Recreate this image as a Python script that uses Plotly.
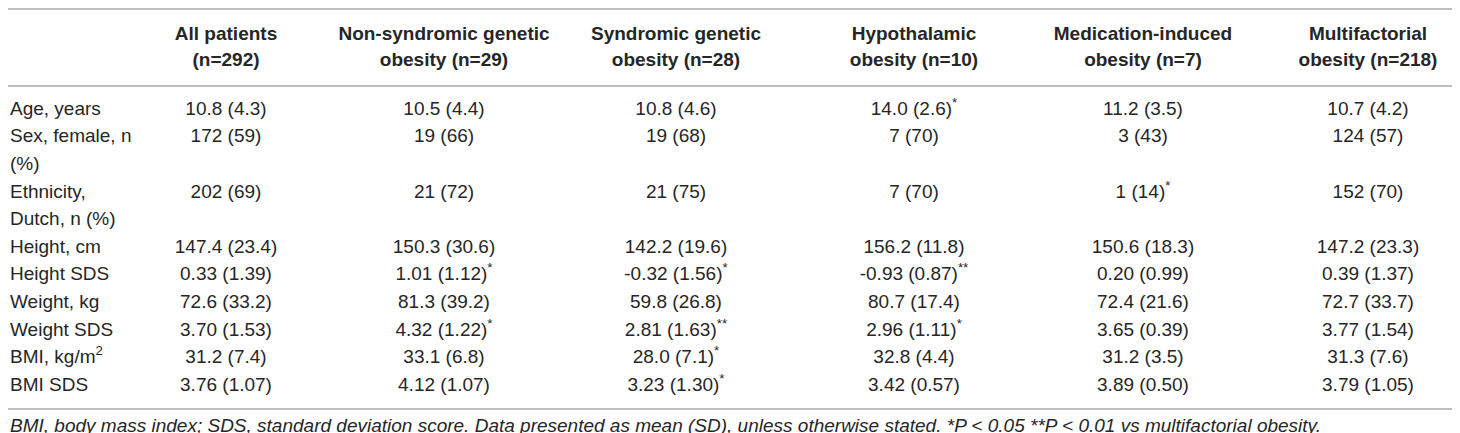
import plotly.graph_objs as go

# table contents
columns = [
    "All patients<br>(n=292)",
    "Non-syndromic genetic<br>obesity (n=29)",
    "Syndromic genetic<br>obesity (n=28)",
    "Hypothalamic<br>obesity (n=10)",
    "Medication-induced<br>obesity (n=7)",
    "Multifactorial<br>obesity (n=218)",
]

row_labels = [
    "Age, years",
    "Sex, female, n<br>(%)",
    "Ethnicity,<br>Dutch, n (%)",
    "Height, cm",
    "Height SDS",
    "Weight, kg",
    "Weight SDS",
    "BMI, kg/m<sup>2</sup>",
    "BMI SDS",
]

all_patients = ["10.8 (4.3)", "172 (59)", "202 (69)", "147.4 (23.4)", "0.33 (1.39)",
                "72.6 (33.2)", "3.70 (1.53)", "31.2 (7.4)", "3.76 (1.07)"]
non_syndromic = ["10.5 (4.4)", "19 (66)", "21 (72)", "150.3 (30.6)", "1.01 (1.12)<sup>*</sup>",
                 "81.3 (39.2)", "4.32 (1.22)<sup>*</sup>", "33.1 (6.8)", "4.12 (1.07)"]
syndromic = ["10.8 (4.6)", "19 (68)", "21 (75)", "142.2 (19.6)", "-0.32 (1.56)<sup>*</sup>",
             "59.8 (26.8)", "2.81 (1.63)<sup>**</sup>", "28.0 (7.1)<sup>*</sup>", "3.23 (1.30)<sup>*</sup>"]
hypothalamic = ["14.0 (2.6)<sup>*</sup>", "7 (70)", "7 (70)", "156.2 (11.8)", "-0.93 (0.87)<sup>**</sup>",
                "80.7 (17.4)", "2.96 (1.11)<sup>*</sup>", "32.8 (4.4)", "3.42 (0.57)"]
medication = ["11.2 (3.5)", "3 (43)", "1 (14)<sup>*</sup>", "150.6 (18.3)", "0.20 (0.99)",
              "72.4 (21.6)", "3.65 (0.39)", "31.2 (3.5)", "3.89 (0.50)"]
multifactorial = ["10.7 (4.2)", "124 (57)", "152 (70)", "147.2 (23.3)", "0.39 (1.37)",
                  "72.7 (33.7)", "3.77 (1.54)", "31.3 (7.6)", "3.79 (1.05)"]

footnote = ("BMI, body mass index; SDS, standard deviation score. Data presented as mean (SD), "
            "unless otherwise stated. *P < 0.05 **P < 0.01 vs multifactorial obesity.")

value_columns = [all_patients, non_syndromic, syndromic, hypothalamic, medication, multifactorial]

# layout constants (pixel coordinates of the 1460x433 canvas)
W, H = 1460, 433
col_x = [218, 436, 668, 906, 1135, 1360]
label_x = 2
header_y = [27, 53]
first_row_y = 102
line_step = 27.6
rules_y = [1, 78, 401]
foot_y = 419

FONT = "Liberation Sans, Arial, sans-serif"
TXT = "#262626"
FS = 19

fig = go.Figure()

# header (bold, two lines per column)
hx, hy, ht = [], [], []
for x, name in zip(col_x, columns):
    for i, part in enumerate(name.split("<br>")):
        hx.append(x)
        hy.append(header_y[i])
        ht.append("<b>" + part + "</b>")
fig.add_trace(go.Scatter(x=hx, y=hy, text=ht, mode="text", textposition="middle center",
                         textfont=dict(family=FONT, size=FS, color=TXT), hoverinfo="skip"))

# row labels, each wrapped line on its own text line
lx, ly, lt = [], [], []
row_y = []
line = 0
for label in row_labels:
    row_y.append(first_row_y + line * line_step)
    for part in label.split("<br>"):
        lx.append(label_x)
        ly.append(first_row_y + line * line_step)
        lt.append(part)
        line += 1
fig.add_trace(go.Scatter(x=lx, y=ly, text=lt, mode="text", textposition="middle right",
                         textfont=dict(family=FONT, size=FS, color=TXT), hoverinfo="skip"))

# values, aligned with first line of each row
for x, vals in zip(col_x, value_columns):
    fig.add_trace(go.Scatter(x=[x] * len(vals), y=row_y, text=vals, mode="text",
                             textposition="middle center",
                             textfont=dict(family=FONT, size=FS, color=TXT), hoverinfo="skip"))

# footnote
fig.add_trace(go.Scatter(x=[label_x], y=[foot_y], text=["<i>" + footnote + "</i>"], mode="text",
                         textposition="middle right",
                         textfont=dict(family=FONT, size=FS, color=TXT), hoverinfo="skip"))

# horizontal rules
for y in rules_y:
    fig.add_shape(type="line", x0=0, x1=W, y0=y, y1=y, xref="x", yref="y",
                  line=dict(color="#a8a8a8", width=1.5))

fig.update_layout(
    width=W, height=H, showlegend=False,
    margin=dict(l=0, r=0, t=0, b=0),
    plot_bgcolor="white", paper_bgcolor="white",
    xaxis=dict(range=[0, W], visible=False, fixedrange=True),
    yaxis=dict(range=[H, 0], visible=False, fixedrange=True),
)

fig.write_html("out.html")
